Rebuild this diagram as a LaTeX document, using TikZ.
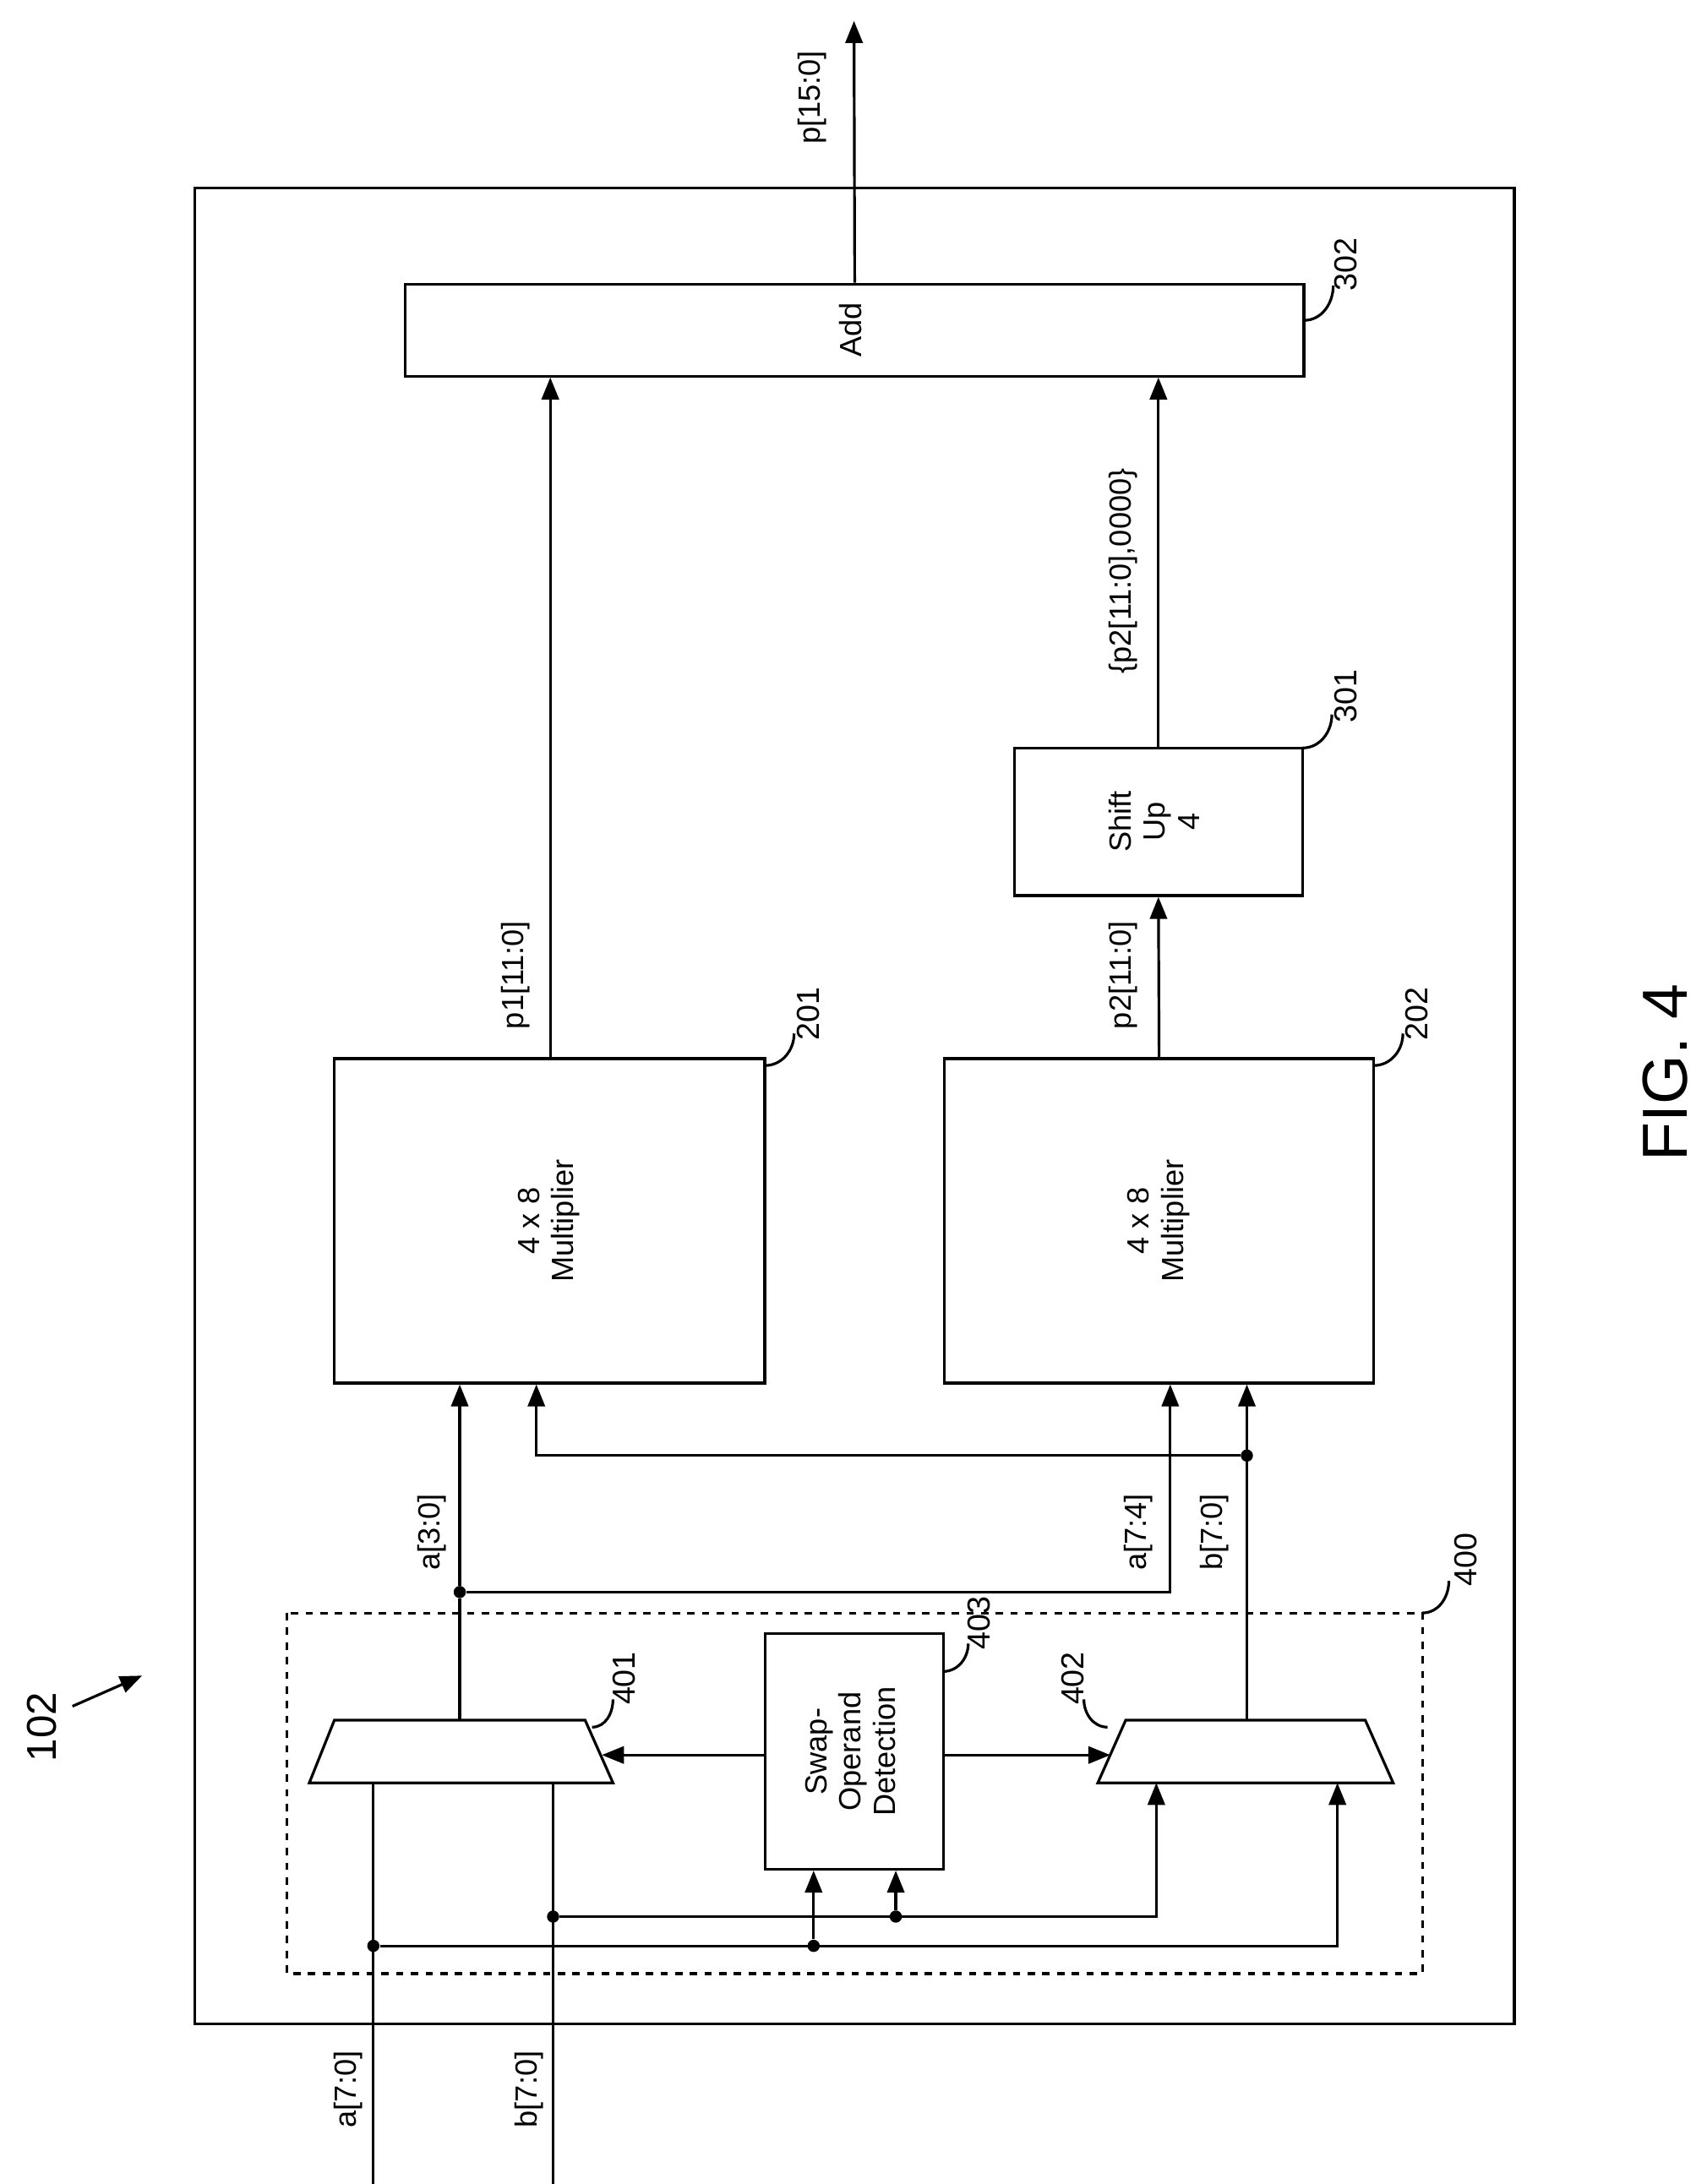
\documentclass[tikz,border=0pt]{standalone}
\usepackage{fontspec}
\setmainfont{Liberation Sans}
\usetikzlibrary{arrows.meta}
\tikzset{
  blk/.style={draw,line width=1.1pt,inner sep=0pt},
  arr/.style={line width=1.1pt,-{Triangle[length=9pt,width=7pt]}},
  wire/.style={line width=1.1pt},
  dot/.style={circle,fill,inner sep=0pt,minimum size=5pt},
  ref/.style={font=\fontsize{13}{13}\selectfont,rotate=90},
  sig/.style={font=\fontsize{12.5}{13}\selectfont,rotate=90},
}
\newcommand{\rtext}[1]{\rotatebox{90}{\begin{tabular}{c}#1\end{tabular}}}
\begin{document}
\begin{tikzpicture}[x=0.02cm,y=-0.02cm,font=\fontsize{12.5}{14}\selectfont]
    \useasboundingbox (0,0) rectangle (1225,1568);
    \draw[wire] (140,135) rectangle (1087,1453);
    \draw[wire,dashed] (206,1158) rectangle (1021,1417);
    % blocks
    \node[blk,minimum width=12.9cm,minimum height=1.32cm] (add) at (613.5,237) {\rtext{Add}};
    \node[blk,minimum width=6.18cm,minimum height=4.66cm] (mulA) at (394.5,876.5) {\rtext{4 x 8\\Multiplier}};
    \node[blk,minimum width=6.16cm,minimum height=4.66cm] (mulB) at (832,876.5) {\rtext{4 x 8\\Multiplier}};
    \node[blk,minimum width=4.14cm,minimum height=2.12cm] (shift) at (831.5,590) {\rtext{Shift\\Up\\4}};
    \node[blk,minimum width=2.56cm,minimum height=3.38cm] (swap) at (613,1257.5) {\rtext{Swap-\\Operand\\Detection}};
    % muxes
    \draw[wire] (240,1235) -- (420,1235) -- (440,1280) -- (222,1280) -- cycle;
    \draw[wire] (808,1235) -- (980,1235) -- (1000,1280) -- (788,1280) -- cycle;
    \coordinate (muxAo) at (330,1235);
    \coordinate (muxAs) at (432,1260);
    \coordinate (muxBo) at (895,1235);
    \coordinate (muxBs) at (797,1260);
    % outputs
    \coordinate (pout) at (613,15);
    \draw[arr] (add.north) -- (pout);
    \node[sig] at (583,70) {p[15:0]};
    \draw[arr] (mulA.north -| 395,0) -- (add.south -| 395,0);
    \node[sig] at (370,700) {p1[11:0]};
    \draw[arr] (mulB.north) -- (shift.south);
    \node[sig] at (806,700) {p2[11:0]};
    \draw[arr] (shift.north) -- (add.south -| shift.north);
    \node[sig] at (806,410) {\{p2[11:0],0000\}};
    % mux outputs
    \node[dot] (ja) at (330,1143) {};
    \node[dot] (jb) at (895,1045) {};
    \draw[wire] (muxAo) -- (ja);
    \draw[arr] (ja) -- (mulA.south -| ja);
    \draw[arr] (ja) -| (mulB.south -| 840,0);
    \draw[arr] (muxBo) -- (mulB.south -| muxBo);
    \draw[arr] (jb) -| (mulA.south -| 385,0);
    \node[sig] at (310,1100) {a[3:0]};
    \node[sig] at (817,1100) {a[7:4]};
    \node[sig] at (872,1100) {b[7:0]};
    % swap control
    \draw[arr] (swap.west |- muxAs) -- (muxAs);
    \draw[arr] (swap.east |- muxBs) -- (muxBs);
    % inputs
    \coordinate (ain) at (268,1568);
    \coordinate (bin) at (397,1568);
    \node[dot] (ja1) at (268,1397) {};
    \node[dot] (ja2) at (584,1397) {};
    \node[dot] (jb1) at (397,1376) {};
    \node[dot] (jb2) at (643,1376) {};
    \draw[wire] (ain) -- (268,1280);
    \draw[wire] (bin) -- (397,1280);
    \draw[arr] (ja1) -| (960,1280);
    \draw[arr] (jb1) -| (830,1280);
    \draw[arr] (ja2) -- (swap.south -| ja2);
    \draw[arr] (jb2) -- (swap.south -| jb2);
    \node[sig] at (250,1500) {a[7:0]};
    \node[sig] at (380,1500) {b[7:0]};
    % reference numerals
    \draw[wire] (936,230) to[out=0,in=-90] (957,205);
    \node[ref] at (966,190) {302};
    \draw[wire] (935,537) to[out=0,in=-90] (956,513);
    \node[ref] at (966,500) {301};
    \draw[wire] (549,765) to[out=0,in=-90] (570,742);
    \node[ref] at (580,728) {201};
    \draw[wire] (986,765) to[out=0,in=-90] (1007,742);
    \node[ref] at (1017,728) {202};
    \draw[wire] (1021,1158) to[out=0,in=-90] (1040,1135);
    \node[ref] at (1052,1120) {400};
    \draw[wire] (425,1240) to[out=0,in=-90] (440,1220);
    \node[ref] at (448,1205) {401};
    \draw[wire] (677,1200) to[out=0,in=-90] (695,1180);
    \node[ref] at (703,1165) {403};
    \draw[wire] (795,1240) to[out=180,in=-90] (778,1220);
    \node[ref] at (770,1205) {402};
    \node[ref,font=\fontsize{17}{17}\selectfont] at (30,1240) {102};
    \coordinate (p102a) at (52,1225);
    \coordinate (p102b) at (102,1203);
    \draw[arr] (p102a) -- (p102b);
    \node[ref,font=\fontsize{26}{26}\selectfont] at (1195,770) {FIG. 4};
\end{tikzpicture}
\end{document}
